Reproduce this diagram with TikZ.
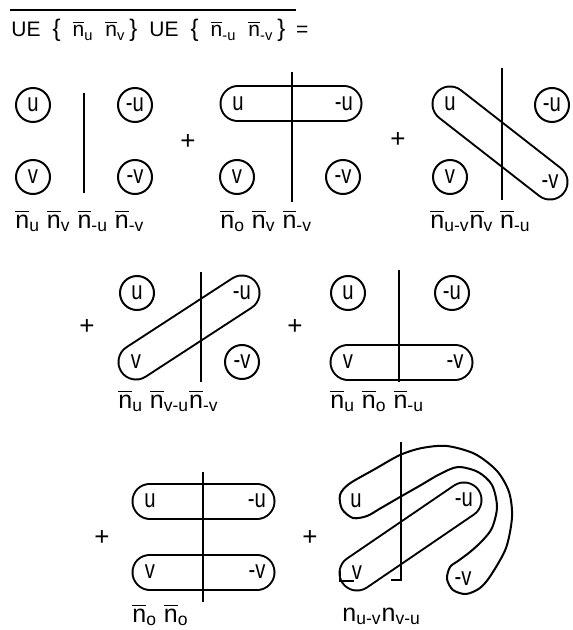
\documentclass[tikz,border=0pt]{standalone}
\usepackage{amsmath}
\usepackage{fontspec}
\setmainfont{Liberation Sans}
\newfontfamily\lett[FakeStretch=0.78]{Liberation Sans}
\usetikzlibrary{positioning,backgrounds}
\newcommand\nb[1]{$\overline{\text{n}}_{\text{#1}}$}
\newcommand\nn[1]{n$_{\text{#1}}$}
\newcommand\gap{\hspace{6pt}}
\tikzset{
  orb/.style={draw,circle,line width=1pt,minimum size=17pt,inner sep=0pt,
    font=\fontsize{13}{15}\lett},
  ptag/.style={inner sep=0pt,font=\fontsize{13}{15}\lett},
  pill/.style={draw,line width=1pt,double=white,double distance=16.5pt,line cap=round},
  tube/.style={line width=1pt},
  cutline/.style={line width=0.9pt},
  plussign/.style={inner sep=0pt,font=\fontsize{13}{15}\selectfont},
  termlab/.style={inner sep=0pt,anchor=base west,font=\fontsize{12.5}{14}\selectfont},
  heading/.style={inner sep=0pt,anchor=base west,font=\fontsize{10.5}{12}\selectfont},
}
\begin{document}
\begin{tikzpicture}[x=0.5pt,y=-0.5pt]
  \useasboundingbox (0,0) rectangle (572,630);
  % heading
  \node[heading] (head) at (11,37) {UE\gap{\large\{}\gap\nb{u}\gap\nb{v}\hspace{2pt}{\large\}}\gap
    UE\gap{\large\{}\gap\nb{-u}\gap\nb{-v}\hspace{2pt}{\large\}}};
  \node[heading,right=5pt of head.base east,anchor=base west] (eq) {=};
  \coordinate (ol1) at (10,10);
  \coordinate (ol2) at (296,10);
  \draw[cutline] (ol1) -- (ol2);
  % --- row 1 ---
  \node[orb] (u1) at (33,105) {u};
  \node[orb] (mu1) at (135,105) {-u};
  \node[orb] (v1) at (33,177) {v};
  \node[orb] (mv1) at (135,177) {-v};
  \coordinate (c1a) at (84,93);
  \coordinate (c1b) at (84,193);
  \draw[cutline] (c1a) -- (c1b);
  \node[termlab] (t1) at (15,228) {\nb{u} \nb{v} \nb{-u} \nb{-v}};
  \node[plussign] (p1) at (188,142) {+};
  \node[ptag] (u2) at (238,104) {u};
  \node[ptag] (mu2) at (344,104) {-u};
  \node[orb] (v2) at (237,177) {v};
  \node[orb] (mv2) at (343,177) {-v};
  \coordinate (c2a) at (292,72);
  \coordinate (c2b) at (292,202);
  \draw[cutline] (c2a) -- (c2b);
  \node[termlab] (t2) at (220,228) {\nb{o} \nb{v} \nb{-v}};
  \node[plussign] (p2) at (398,140) {+};
  \node[ptag] (u3) at (450,104) {u};
  \node[orb] (mu3) at (552,105) {-u};
  \node[orb] (v3) at (450,177) {v};
  \node[ptag] (mv3) at (550,182) {-v};
  \coordinate (c3a) at (502,68);
  \coordinate (c3b) at (502,200);
  \draw[cutline] (c3a) -- (c3b);
  \node[termlab] (t3) at (430,228) {\nb{u-v}\nb{v} \nb{-u}};
  % --- row 2 ---
  \node[plussign] (p3) at (87,327) {+};
  \node[orb] (u4) at (137,293) {u};
  \node[ptag] (mu4) at (242,293) {-u};
  \node[ptag] (v4) at (136,362) {v};
  \node[orb] (mv4) at (242,362) {-v};
  \coordinate (c4a) at (201,272);
  \coordinate (c4b) at (201,382);
  \draw[cutline] (c4a) -- (c4b);
  \node[termlab] (t4) at (118,408) {\nb{u} \nb{v-u}\nb{-v}};
  \node[plussign] (p4) at (295,327) {+};
  \node[orb] (u5) at (348,293) {u};
  \node[orb] (mu5) at (452,293) {-u};
  \node[ptag] (v5) at (348,362) {v};
  \node[ptag] (mv5) at (455,362) {-v};
  \coordinate (c5a) at (399,270);
  \coordinate (c5b) at (399,382);
  \draw[cutline] (c5a) -- (c5b);
  \node[termlab] (t5) at (330,408) {\nb{u} \nb{o} \nb{-u}};
  % --- row 3 ---
  \node[plussign] (p5) at (102,538) {+};
  \node[ptag] (u6) at (150,501) {u};
  \node[ptag] (mu6) at (257,501) {-u};
  \node[ptag] (v6) at (150,572) {v};
  \node[ptag] (mv6) at (257,572) {-v};
  \coordinate (c6a) at (203,472);
  \coordinate (c6b) at (203,602);
  \draw[cutline] (c6a) -- (c6b);
  \node[termlab] (t6) at (132,622) {\nb{o} \nb{o}};
  \node[plussign] (p6) at (310,538) {+};
  \node[ptag] (u7) at (356,501) {u};
  \node[ptag] (mu7) at (464,500) {-u};
  \node[ptag] (v7) at (357,573) {v};
  \node[ptag] (mv7) at (463,579) {-v};
  \coordinate (c7a) at (401,442);
  \coordinate (c7b) at (401,580);
  \coordinate (c7c) at (391,580);
  \coordinate (k7a) at (340,571);
  \coordinate (k7b) at (340,581);
  \coordinate (k7c) at (354,581);
  \draw[cutline] (c7a) -- (c7b) -- (c7c);
  \draw[cutline] (k7a) -- (k7b) -- (k7c);
  \draw[tube] plot[smooth cycle,tension=0.5] coordinates {
    (349,484) (375,469) (400,455) (422,448) (447,446) (475,454) (497,471)
    (509,492) (512,517) (506,548) (491,575) (480,588) (466,594) (453,590)
    (447,579) (450,567) (458,561) (470,552) (482,541) (492,528) (497,507)
    (492,485) (478,472) (458,467) (440,474) (420,485.6) (400,497)
    (380,508.6) (367,516) (353,518) (342,509) (340,495)};
  \node[termlab] (t7) at (342,621) {\nn{u-v}\nn{v-u}};
  % pairs drawn behind
  \begin{scope}[on background layer]
    \foreach \a/\b in {u2/mu2,u3/mv3,v4/mu4,v5/mv5,u6/mu6,v6/mv6,v7/mu7}
      \draw[pill] (\a.center) -- (\b.center);
  \end{scope}
\end{tikzpicture}
\end{document}
